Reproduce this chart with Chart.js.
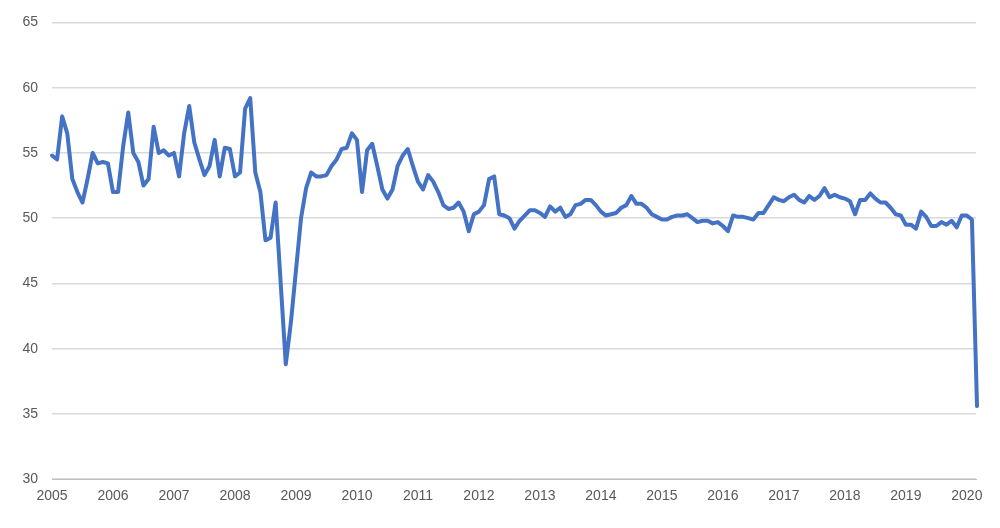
<!DOCTYPE html>
<html>
<head>
<meta charset="utf-8">
<script src="https://cdn.jsdelivr.net/npm/chart.js@4/dist/chart.umd.min.js"></script>
<style>
  body { margin: 0; background: #fff; }
  #wrap { width: 1000px; height: 528px; }
</style>
</head>
<body>
<div id="wrap"><canvas id="grafico"></canvas></div>
<script>
const startYear = 2005;
const v2005 = [54.8, 54.5, 57.8, 56.5, 53, 52, 51.2, 53, 55, 54.2, 54.3, 54.2];
const v2006 = [52, 52, 55.5, 58.1, 55, 54.3, 52.5, 53, 57, 55, 55.2, 54.8];
const v2007 = [55, 53.2, 56.5, 58.6, 55.8, 54.5, 53.3, 54, 56, 53.2, 55.4, 55.3];
const v2008 = [53.2, 53.5, 58.4, 59.2, 53.5, 52, 48.3, 48.5, 51.2, 45, 38.8, 42];
const v2009 = [46, 50, 52.3, 53.5, 53.2, 53.2, 53.3, 54, 54.5, 55.3, 55.4, 56.5];
const v2010 = [56, 52, 55.2, 55.7, 54, 52.2, 51.5, 52.2, 54, 54.8, 55.3, 54];
const v2011 = [52.8, 52.2, 53.3, 52.8, 52, 51, 50.7, 50.8, 51.2, 50.5, 49, 50.3];
const v2012 = [50.5, 51, 53, 53.2, 50.3, 50.2, 50, 49.2, 49.8, 50.2, 50.6, 50.6];
const v2013 = [50.4, 50.1, 50.9, 50.5, 50.8, 50.1, 50.3, 51, 51.1, 51.4, 51.4, 51];
const v2014 = [50.5, 50.2, 50.3, 50.4, 50.8, 51, 51.7, 51.1, 51.1, 50.8, 50.3, 50.1];
const v2015 = [49.9, 49.9, 50.1, 50.2, 50.2, 50.3, 50, 49.7, 49.8, 49.8, 49.6, 49.7];
const v2016 = [49.4, 49, 50.2, 50.1, 50.1, 50, 49.9, 50.4, 50.4, 51, 51.6, 51.4];
const v2017 = [51.3, 51.6, 51.8, 51.4, 51.2, 51.7, 51.4, 51.7, 52.3, 51.6, 51.8, 51.6];
const v2018 = [51.5, 51.3, 50.3, 51.4, 51.4, 51.9, 51.5, 51.2, 51.2, 50.8, 50.3, 50.2];
const v2019 = [49.5, 49.5, 49.2, 50.5, 50.1, 49.4, 49.4, 49.7, 49.5, 49.8, 49.3, 50.2];
const v2020 = [50.2, 49.9, 35.6];

const valores = [].concat(v2005, v2006, v2007, v2008, v2009, v2010, v2011, v2012,
  v2013, v2014, v2015, v2016, v2017, v2018, v2019, v2020);
const puntos = valores.map((v, i) => ({ x: startYear + i / 12, y: v }));

const canvas = document.getElementById("grafico").getContext("2d");
new Chart(canvas, {
  type: "line",
  data: {
    datasets: [
      {
        data: puntos,
        borderColor: "#4472c4",
        borderWidth: 4,
        pointRadius: 0,
        tension: 0,
        borderJoinStyle: "round",
        borderCapStyle: "round",
        clip: 4,
      },
    ],
  },
  options: {
    responsive: true,
    maintainAspectRatio: false,
    animation: false,
    layout: { padding: { top: 14, right: 24, left: 0, bottom: 20 } },
    plugins: { legend: { display: false }, tooltip: { enabled: false } },
    scales: {
      x: {
        type: "linear",
        min: 2005,
        max: 2020.15,
        afterBuildTicks: (ax) => {
          ax.ticks = [];
          for (let y = 2005; y <= 2020; y++) ax.ticks.push({ value: y });
        },
        ticks: {
          color: "#595959",
          font: { family: "Liberation Sans", size: 14 },
          maxRotation: 0,
          callback: (v) => String(v),
        },
        grid: { display: false, drawTicks: true, tickLength: 6 },
        border: { display: true, color: "#bfbfbf" },
      },
      y: {
        min: 30,
        max: 65,
        afterFit: (ax) => { ax.width = 52; },
        ticks: {
          stepSize: 5,
          color: "#595959",
          font: { family: "Liberation Sans", size: 14 },
          padding: 14,
        },
        grid: { color: "#d9d9d9", lineWidth: 1.5, drawTicks: false },
        border: { display: false },
      },
    },
  },
});
</script>
</body>
</html>
